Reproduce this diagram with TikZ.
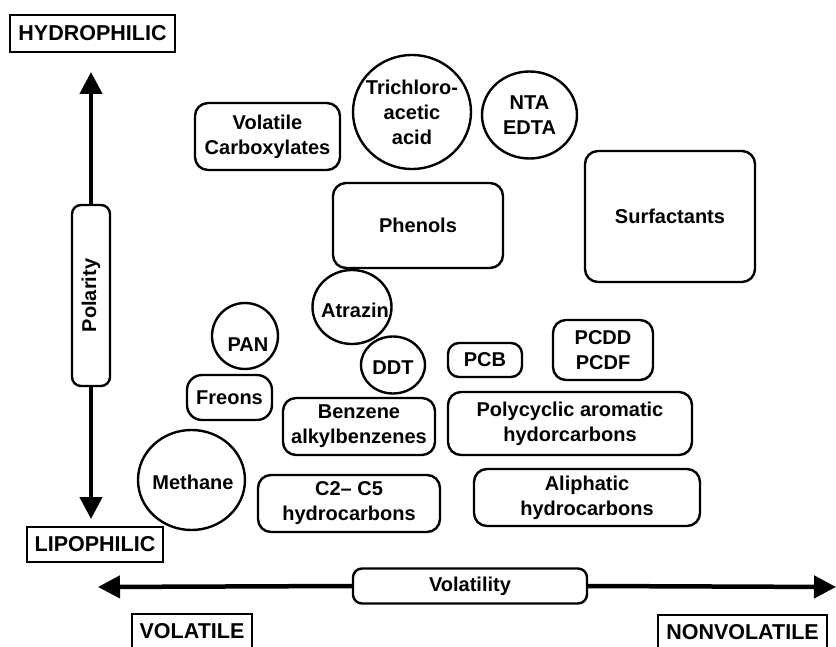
\documentclass[tikz,border=0pt]{standalone}
\usepackage{fontspec}
\setmainfont{Liberation Sans}
\usetikzlibrary{arrows.meta,shapes.geometric}
\begin{document}
\begin{tikzpicture}[x=1pt,y=-1pt,
  every node/.style={font=\fontsize{20}{25}\selectfont\bfseries, align=center, inner sep=0pt},
  rbox/.style={draw, line width=2.4pt, rounded corners=13pt, fill=white},
  oval/.style={draw, line width=2.4pt, ellipse},
  tag/.style={draw, line width=2.6pt, font=\fontsize{21.5}{25}\selectfont\bfseries},
  axis/.style={line width=4.5pt},
  tipA/.style={-{Triangle[length=22pt,width=22pt]}}
]
\useasboundingbox (0,0) rectangle (836,647);
\fill[white] (0,0) rectangle (836,647);

% axis end labels
\node[tag, minimum width=165pt, minimum height=37pt] (hydro) at (92.5,33.5) {HYDROPHILIC};
\node[tag, minimum width=136pt, minimum height=35pt] (lipo) at (95,544.5) {LIPOPHILIC};
\node[tag, minimum width=120pt, minimum height=35pt] (volat) at (192,631.5) {VOLATILE};
\node[tag, minimum width=169pt, minimum height=35pt] (nonvol) at (742.5,632.5) {NONVOLATILE};

% polarity axis
\coordinate (vtop) at (91,72);
\coordinate (vbot) at (91,519);
\node[rbox, rounded corners=9pt, rotate=90, minimum width=181pt, minimum height=38pt] (pol) at (91,295.5) {Polarity};
\draw[axis,tipA] (pol.east) -- (vtop);
\draw[axis,tipA] (pol.west) -- (vbot);

% volatility axis
\coordinate (hl) at (98,587);
\coordinate (hr) at (836,587);
\node[rbox, rounded corners=9pt, minimum width=234pt, minimum height=35pt] (vol) at (470,586) {Volatility};
\draw[axis,tipA] (vol.west) -- (hl);
\draw[axis,tipA] (vol.east) -- (hr);

% compound classes in boxes
\node[rbox, minimum width=145pt, minimum height=67pt] (carbox) at (267.5,136.5) {Volatile\\Carboxylates};
\node[rbox, minimum width=170pt, minimum height=85pt] (phen) at (418,225.5) {Phenols};
\node[rbox, minimum width=170pt, minimum height=131pt] (surf) at (670,216.5) {Surfactants};
\node[rbox, rounded corners=15pt, minimum width=85pt, minimum height=45pt] (freon) at (229.5,397.5) {Freons};
\node[rbox, minimum width=152pt, minimum height=57pt] (benz) at (359,426.5) {Benzene\\alkylbenzenes};
\node[rbox, rounded corners=11pt, minimum width=74pt, minimum height=34pt] (pcb) at (485,360) {PCB};
\node[rbox, minimum width=100pt, minimum height=60pt] (pcdd) at (603,350) {PCDD\\PCDF};
\node[rbox, minimum width=244pt, minimum height=63pt] (pah) at (570,423.5) {Polycyclic aromatic\\hydorcarbons};
\node[rbox, minimum width=182pt, minimum height=57pt] (ctwo) at (349,503.5) {C2-- C5\\hydrocarbons};
\node[rbox, minimum width=226pt, minimum height=57pt] (aliph) at (587,497.5) {Aliphatic\\hydrocarbons};

% compounds in circles
\node[oval, minimum width=118pt, minimum height=114pt] (tca) at (412,112) {};
\node (tcatext) at (tca) {Trichloro-\\acetic\\acid};
\node[oval, minimum width=95pt, minimum height=87pt] (nta) at (529.5,115) {};
\node (ntatext) at (nta) {NTA\\EDTA};
\node[oval, minimum width=79pt, minimum height=74pt] (atra) at (352,307) {};
\node (atratext) at (355,310) {Atrazin};
\node[oval, minimum width=66pt, minimum height=66pt] (pan) at (245,336) {};
\node (pantext) at (248,345) {PAN};
\node[oval, minimum width=64pt, minimum height=57pt] (ddt) at (393,365) {};
\node (ddttext) at (393,368) {DDT};
\node[oval, minimum width=107pt, minimum height=100pt] (meth) at (191.5,480) {};
\node (methtext) at (193,482) {Methane};
\end{tikzpicture}
\end{document}
